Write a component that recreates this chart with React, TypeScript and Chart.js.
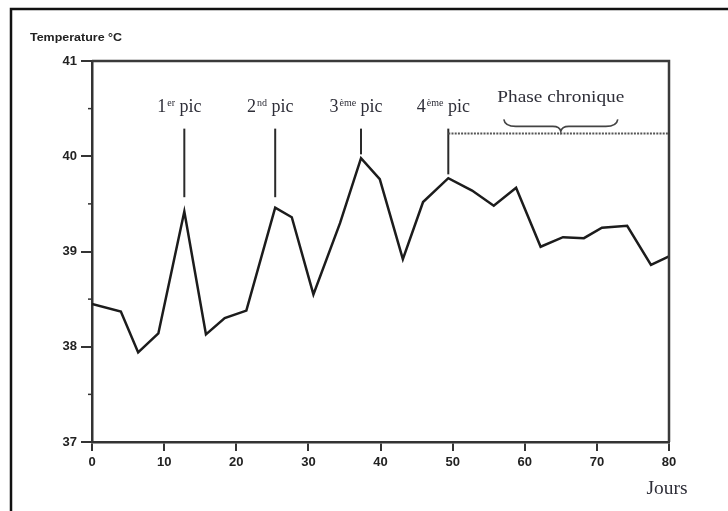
import React, { useEffect, useRef } from 'react';
import { Chart, registerables } from 'chart.js';

Chart.register(...registerables);

// ---- data ----
const days = [0, 4, 6.4, 9.2, 12.8, 15.8, 18.4, 21.4, 25.4, 27.7, 30.7, 34.4, 37.3, 39.9, 43.1, 45.9, 49.4, 52.7, 55.7, 58.8, 62.2, 65.3, 68.2, 70.7, 74.2, 77.5, 80];
const temps = [38.45, 38.37, 37.94, 38.14, 39.42, 38.13, 38.3, 38.38, 39.46, 39.36, 38.55, 39.3, 39.98, 39.76, 38.92, 39.52, 39.77, 39.64, 39.48, 39.67, 39.05, 39.15, 39.14, 39.25, 39.27, 38.86, 38.95];

const xMin = 0;
const xMax = 80;
const xStep = 10;
const yMin = 37;
const yMax = 41;
const yStep = 1;
const yMinorTicks = [37.5, 38.5, 39.5, 40.5];

const peakDays = [12.8, 25.4, 37.3, 49.4];
const peakNumbers = ['1', '2', '3', '4'];
const peakSuffixes = ['er', 'nd', 'ème', 'ème'];
const peakLineTop = 40.29;
const peakLineBottoms = [39.57, 39.57, 40.02, 39.81];

const chronicStart = 49.4;
const chronicEnd = 80;
const chronicLevel = 40.24;
const braceStart = 57.1;
const braceEnd = 72.9;
const braceTip = 65;

const yTitle = 'Temperature °C';
const xTitle = 'Jours';
const phaseLabel = 'Phase chronique';
const peakWord = ' pic';

const TEXT_COLOR = '#2e2e38';
const SERIF = '"Liberation Serif", "DejaVu Serif", serif';
const SANS = '"Liberation Sans", Arial, sans-serif';

function fitText(ctx: CanvasRenderingContext2D, text: string, x: number, baseline: number, targetW: number, font: string, align: 'left' | 'center') {
  ctx.save();
  ctx.font = font;
  const w = ctx.measureText(text).width;
  const s = targetW / w;
  ctx.translate(x, baseline);
  ctx.scale(s, 1);
  ctx.textAlign = align;
  ctx.textBaseline = 'alphabetic';
  ctx.fillText(text, 0, 0);
  ctx.restore();
}

const annotationPlugin = {
  id: 'annotations',
  afterDraw(chart: any) {
    const { ctx, chartArea, scales } = chart;
    const xs = scales.x;
    const ys = scales.y;
    ctx.save();

    // outer frame (top + left)
    ctx.strokeStyle = '#111';
    ctx.lineWidth = 2.5;
    ctx.beginPath();
    ctx.moveTo(11, 511);
    ctx.lineTo(11, 9);
    ctx.lineTo(728, 9);
    ctx.stroke();

    // plot frame top + right
    ctx.strokeStyle = '#3a3a3a';
    ctx.lineWidth = 2.5;
    ctx.beginPath();
    ctx.moveTo(chartArea.left, chartArea.top);
    ctx.lineTo(chartArea.right, chartArea.top);
    ctx.lineTo(chartArea.right, chartArea.bottom);
    ctx.stroke();

    // minor ticks on y axis
    ctx.lineWidth = 1.5;
    ctx.strokeStyle = '#333';
    yMinorTicks.forEach((v) => {
      const y = ys.getPixelForValue(v);
      ctx.beginPath();
      ctx.moveTo(chartArea.left - 4, y);
      ctx.lineTo(chartArea.left, y);
      ctx.stroke();
    });

    // peak marker lines
    ctx.strokeStyle = '#2a2a2a';
    ctx.lineWidth = 2;
    peakDays.forEach((d, i) => {
      const x = xs.getPixelForValue(d);
      ctx.beginPath();
      ctx.moveTo(x, ys.getPixelForValue(peakLineTop));
      ctx.lineTo(x, ys.getPixelForValue(peakLineBottoms[i]));
      ctx.stroke();
    });

    // peak labels
    ctx.fillStyle = TEXT_COLOR;
    const mainFont = `18px ${SERIF}`;
    const supFont = `10px ${SERIF}`;
    const labelBase = ys.getPixelForValue(40.46);
    peakDays.forEach((d, i) => {
      const cx = xs.getPixelForValue(d) - 5;
      ctx.font = mainFont;
      const wn = ctx.measureText(peakNumbers[i]).width;
      const wr = ctx.measureText(peakWord).width;
      ctx.font = supFont;
      const ws = ctx.measureText(peakSuffixes[i]).width;
      const total = wn + 1 + ws + wr;
      let x = cx - total / 2;
      ctx.textAlign = 'left';
      ctx.textBaseline = 'alphabetic';
      ctx.font = mainFont;
      ctx.fillText(peakNumbers[i], x, labelBase);
      x += wn + 1;
      ctx.font = supFont;
      ctx.fillText(peakSuffixes[i], x, labelBase - 6);
      x += ws;
      ctx.font = mainFont;
      ctx.fillText(peakWord, x, labelBase);
    });

    // chronic phase dashed line
    const dashY = ys.getPixelForValue(chronicLevel);
    const cx0 = xs.getPixelForValue(chronicStart);
    const cx1 = xs.getPixelForValue(chronicEnd);
    ctx.strokeStyle = '#555';
    ctx.lineWidth = 2;
    ctx.setLineDash([2, 1.2]);
    ctx.beginPath();
    ctx.moveTo(cx0, dashY);
    ctx.lineTo(cx1, dashY);
    ctx.stroke();
    ctx.setLineDash([]);
    // short vertical at start of chronic phase (4th pic line reaches dashed line)

    // brace
    const bx0 = xs.getPixelForValue(braceStart);
    const bx1 = xs.getPixelForValue(braceEnd);
    const bt = xs.getPixelForValue(braceTip);
    const yEnd = dashY - 14;
    const yFlat = dashY - 7;
    const yTip = dashY - 2;
    ctx.strokeStyle = '#444';
    ctx.lineWidth = 1.6;
    ctx.beginPath();
    ctx.moveTo(bx0, yEnd);
    ctx.quadraticCurveTo(bx0 + 1, yFlat, bx0 + 12, yFlat);
    ctx.lineTo(bt - 8, yFlat);
    ctx.quadraticCurveTo(bt - 1, yFlat, bt, yTip);
    ctx.quadraticCurveTo(bt + 1, yFlat, bt + 8, yFlat);
    ctx.lineTo(bx1 - 12, yFlat);
    ctx.quadraticCurveTo(bx1 - 1, yFlat, bx1, yEnd);
    ctx.stroke();

    // phase label
    ctx.fillStyle = TEXT_COLOR;
    fitText(ctx, phaseLabel, bt, dashY - 31, 127, `17px ${SERIF}`, 'center');

    // axis titles
    ctx.fillStyle = '#222';
    fitText(ctx, yTitle, 30, 41, 92, `bold 10px ${SANS}`, 'left');
    ctx.fillStyle = TEXT_COLOR;
    fitText(ctx, xTitle, chartArea.right - 2, 494, 41, `18px ${SERIF}`, 'center');

    ctx.restore();
  },
};

export default function App() {
  const canvasRef = useRef<HTMLCanvasElement | null>(null);

  useEffect(() => {
    const canvas = canvasRef.current;
    if (!canvas) return;
    const points = days.map((d, i) => ({ x: d, y: temps[i] }));
    const tickFont = { family: SANS, size: 13, weight: 'bold' as const };
    const chart = new Chart(canvas, {
      type: 'line',
      data: {
        datasets: [
          {
            data: points,
            borderColor: '#1c1c1c',
            borderWidth: 2.5,
            pointRadius: 0,
            tension: 0,
            fill: false,
          },
        ],
      },
      options: {
        animation: false,
        responsive: false,
        maintainAspectRatio: false,
        layout: { padding: { left: 0, top: 61, right: 59, bottom: 0 } },
        plugins: {
          legend: { display: false },
          tooltip: { enabled: false },
        },
        scales: {
          x: {
            type: 'linear',
            min: xMin,
            max: xMax,
            afterFit: (s: any) => {
              s.height = 69;
            },
            ticks: {
              stepSize: xStep,
              autoSkip: false,
              maxRotation: 0,
              color: '#222',
              font: tickFont,
              padding: 4,
            },
            grid: {
              drawOnChartArea: false,
              drawTicks: true,
              tickLength: 9,
              lineWidth: 2,
              color: '#333',
              tickColor: '#333',
            },
            border: { display: true, color: '#333', width: 2.5 },
          },
          y: {
            type: 'linear',
            min: yMin,
            max: yMax,
            afterFit: (s: any) => {
              s.width = 92;
            },
            ticks: {
              stepSize: yStep,
              autoSkip: false,
              color: '#222',
              font: tickFont,
              padding: 4,
            },
            grid: {
              drawOnChartArea: false,
              drawTicks: true,
              tickLength: 11,
              lineWidth: 2,
              color: '#333',
              tickColor: '#333',
            },
            border: { display: true, color: '#333', width: 2.5 },
          },
        },
      },
      plugins: [annotationPlugin],
    });
    return () => chart.destroy();
  }, []);

  return (
    <div style={{ position: 'absolute', left: 0, top: 0, width: 728, height: 511, background: '#fff' }}>
      <canvas ref={canvasRef} width={728} height={511} style={{ display: 'block', width: 728, height: 511 }} />
    </div>
  );
}
